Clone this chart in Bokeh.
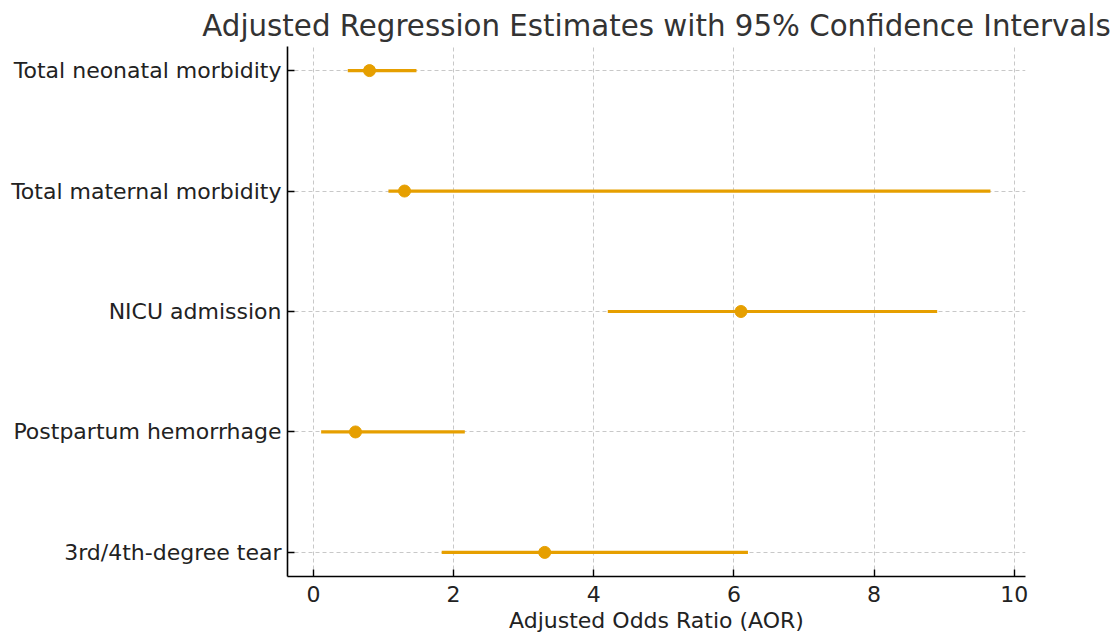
from bokeh.plotting import figure
from bokeh.models import FixedTicker, Range1d, Title
from bokeh.embed import file_html
from bokeh.resources import INLINE

outcomes = ["3rd/4th-degree tear", "Postpartum hemorrhage", "NICU admission",
            "Total maternal morbidity", "Total neonatal morbidity"]
aor = [3.3, 0.6, 6.1, 1.3, 0.8]
ci_low = [1.83, 0.11, 4.2, 1.07, 0.49]
ci_high = [6.2, 2.16, 8.9, 9.66, 1.47]
x_ticks = [0, 2, 4, 6, 8, 10]

ypos = list(range(len(outcomes)))
color = "#E69F00"
FONT = "DejaVu Sans"

p = figure(width=1110, height=635, output_backend="svg", toolbar_location=None,
           x_range=Range1d(-0.37, 10.16), y_range=Range1d(-0.2, len(outcomes) - 0.8),
           min_border_left=287, min_border_right=85, min_border_top=46, min_border_bottom=58)
p.title = Title(text="Adjusted Regression Estimates with 95% Confidence Intervals",
                align="center", text_font=FONT, text_font_size="29.3px",
                text_font_style="normal", text_color="#333333", standoff=8)
p.outline_line_color = None

p.segment(x0=ci_low, x1=ci_high, y0=ypos, y1=ypos, line_color=color, line_width=3.2)
p.scatter(x=aor, y=ypos, size=12, fill_color=color, line_color=color)

p.xaxis.ticker = FixedTicker(ticks=x_ticks)
p.yaxis.ticker = FixedTicker(ticks=ypos)
p.yaxis.major_label_overrides = {i: s for i, s in enumerate(outcomes)}
p.xaxis.axis_label = "Adjusted Odds Ratio (AOR)"

for ax in (p.xaxis, p.yaxis):
    ax.axis_line_color = "black"
    ax.axis_line_width = 1.6
    ax.major_tick_line_color = "black"
    ax.major_tick_line_width = 1.4
    ax.major_tick_out = 0
    ax.major_tick_in = 7
    ax.minor_tick_line_color = None
    ax.major_label_text_font = FONT
    ax.major_label_text_font_size = "22px"
    ax.major_label_text_color = "#222222"
    ax.axis_label_text_font = FONT
    ax.axis_label_text_font_size = "22px"
    ax.axis_label_text_font_style = "normal"
    ax.axis_label_text_color = "#222222"
p.xaxis.major_label_standoff = 9
p.xaxis.axis_label_standoff = 3
p.yaxis.major_label_standoff = 6

for g in (p.xgrid, p.ygrid):
    g.grid_line_color = "#c8c8c8"
    g.grid_line_dash = "4 3"
    g.grid_line_width = 1
p.xgrid.ticker = FixedTicker(ticks=x_ticks)
p.ygrid.ticker = FixedTicker(ticks=ypos)

open("out.html", "w").write(file_html(p, INLINE))
